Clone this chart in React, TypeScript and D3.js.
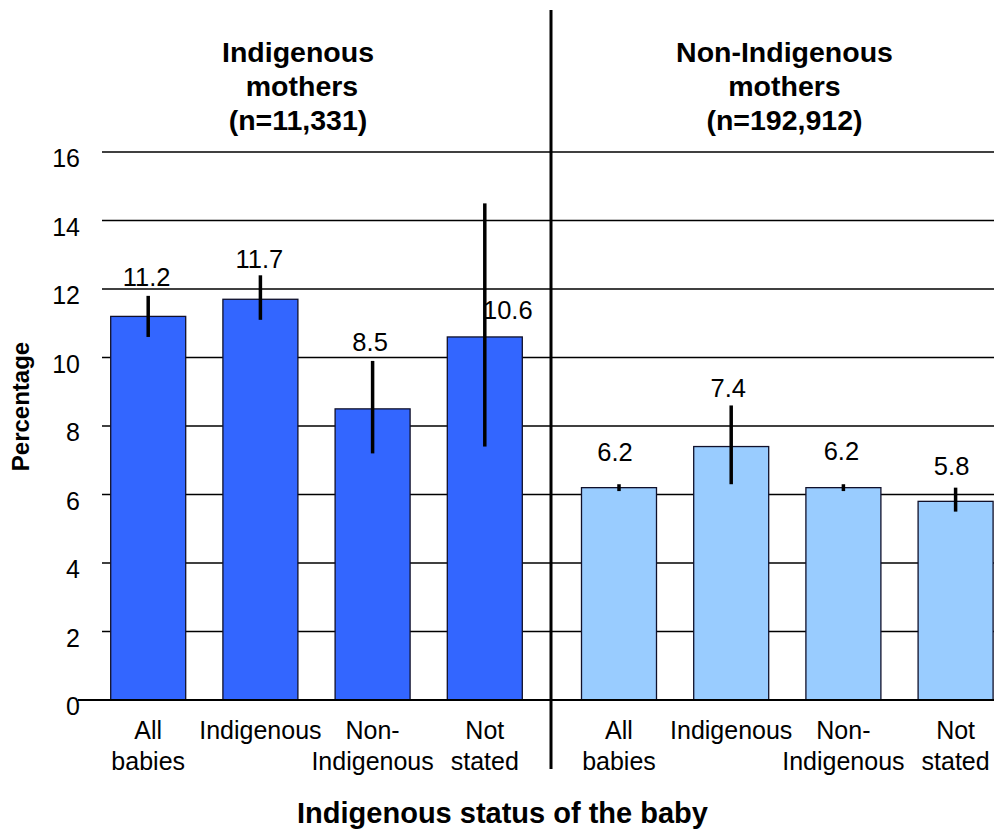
import React from "react";
import * as d3 from "d3";

// ---- Data ----
const categories = ["All babies", "Indigenous", "Non-Indigenous", "Not stated"];
const categoryLines = [["All", "babies"], ["Indigenous"], ["Non-", "Indigenous"], ["Not", "stated"]];
const groupTitles = [
  ["Indigenous", " mothers", "(n=11,331)"],
  ["Non-Indigenous", "mothers", "(n=192,912)"],
];
const indigenousMothers = [11.2, 11.7, 8.5, 10.6];
const indigenousLower = [10.6, 11.1, 7.2, 7.4];
const indigenousUpper = [11.8, 12.4, 9.9, 14.5];
const nonIndigenousMothers = [6.2, 7.4, 6.2, 5.8];
const nonIndigenousLower = [6.1, 6.3, 6.1, 5.5];
const nonIndigenousUpper = [6.3, 8.6, 6.3, 6.2];
const yTicks = [0, 2, 4, 6, 8, 10, 12, 14, 16];
const yLabel = "Percentage";
const xLabel = "Indigenous status of the baby";

// ---- Layout / style ----
const W = 995;
const H = 834;
const FONT = "'Liberation Sans', Arial, Helvetica, sans-serif";
const groupColors = ["#3366FF", "#99CCFF"];
const groupRanges: [number, number][] = [
  [148.2, 484.8],
  [619, 955.6],
];
const barWidth = 75;
// value-label offsets (dx, dy in px relative to bar centre / bar top)
const labelOffsets: [number, number][][] = [
  [[-1.5, -30], [-1, -31], [-2.5, -58], [23, -18]],
  [[-4, -27], [-3, -50], [-2, -28], [-4, -26]],
];

export default function App() {
  const y = d3.scaleLinear().domain([0, 16]).range([700, 152]);
  const groups = [
    { values: indigenousMothers, lo: indigenousLower, hi: indigenousUpper },
    { values: nonIndigenousMothers, lo: nonIndigenousLower, hi: nonIndigenousUpper },
  ];
  const xScales = groupRanges.map((r) => d3.scalePoint<string>().domain(categories).range(r));
  const titleCenters = [298, 784.5];
  const fmt = d3.format(".1f");

  return (
    <svg
      width={W}
      height={H}
      viewBox={`0 0 ${W} ${H}`}
      style={{ position: "absolute", left: 0, top: 0, display: "block", background: "#fff" }}
      fontFamily={FONT}
    >
      <rect x={0} y={0} width={W} height={H} fill="#fff" />
      {/* gridlines */}
      {yTicks
        .filter((t) => t > 0)
        .map((t) => (
          <line key={"g" + t} x1={102} x2={994} y1={y(t)} y2={y(t)} stroke="#000" strokeWidth={1.3} />
        ))}
      {/* y tick labels */}
      {yTicks.map((t) => (
        <text key={"t" + t} x={80} y={y(t) + 15} textAnchor="end" fontSize={25} fill="#000">
          {t}
        </text>
      ))}
      {/* bars */}
      {groups.map((g, gi) =>
        categories.map((c, i) => {
          const cx = xScales[gi](c)!;
          return (
            <rect
              key={`b${gi}-${i}`}
              x={cx - barWidth / 2}
              y={y(g.values[i])}
              width={barWidth}
              height={y(0) - y(g.values[i])}
              fill={groupColors[gi]}
              stroke="#10102a"
              strokeWidth={1.3}
            />
          );
        })
      )}
      {/* zero axis line */}
      <line x1={78} x2={994} y1={y(0)} y2={y(0)} stroke="#000" strokeWidth={2} />
      {/* error bars */}
      {groups.map((g, gi) =>
        categories.map((c, i) => {
          const cx = xScales[gi](c)!;
          return (
            <line
              key={`e${gi}-${i}`}
              x1={cx}
              x2={cx}
              y1={y(g.lo[i])}
              y2={y(g.hi[i])}
              stroke="#000"
              strokeWidth={3.5}
            />
          );
        })
      )}
      {/* value labels */}
      {groups.map((g, gi) =>
        categories.map((c, i) => {
          const cx = xScales[gi](c)!;
          const [dx, dy] = labelOffsets[gi][i];
          return (
            <text
              key={`v${gi}-${i}`}
              x={cx + dx}
              y={y(g.values[i]) + dy}
              textAnchor="middle"
              fontSize={25.5}
              fill="#000"
            >
              {fmt(g.values[i])}
            </text>
          );
        })
      )}
      {/* category labels */}
      {groups.map((g, gi) =>
        categories.map((c, i) => {
          const cx = xScales[gi](c)!;
          return (
            <text key={`c${gi}-${i}`} x={cx} y={739} textAnchor="middle" fontSize={25} fill="#000">
              {categoryLines[i].map((ln, li) => (
                <tspan key={li} x={cx} dy={li === 0 ? 0 : 31}>
                  {ln}
                </tspan>
              ))}
            </text>
          );
        })
      )}
      {/* divider */}
      <line x1={551} x2={551} y1={10} y2={769} stroke="#000" strokeWidth={3} />
      {/* group titles */}
      {groupTitles.map((lines, gi) => (
        <text
          key={"gt" + gi}
          x={titleCenters[gi]}
          y={62}
          textAnchor="middle"
          fontSize={28.5}
          fontWeight="bold"
          fill="#000"
        >
          {lines.map((ln, li) => (
            <tspan key={li} x={titleCenters[gi]} dy={li === 0 ? 0 : 34} style={{ whiteSpace: "pre" }}>
              {ln}
            </tspan>
          ))}
        </text>
      ))}
      {/* y axis label */}
      <text
        transform={`translate(29, ${406.5}) rotate(-90)`}
        textAnchor="middle"
        fontSize={24}
        fontWeight="bold"
        fill="#000"
      >
        {yLabel}
      </text>
      {/* x axis label */}
      <text x={502.5} y={823} textAnchor="middle" fontSize={29} fontWeight="bold" fill="#000">
        {xLabel}
      </text>
    </svg>
  );
}
